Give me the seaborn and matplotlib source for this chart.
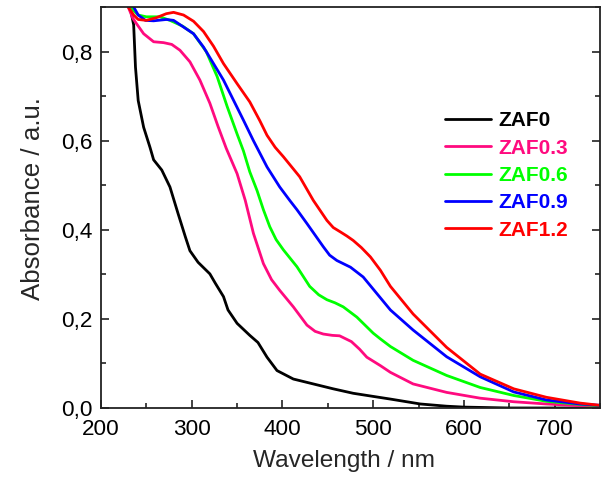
import numpy as np
import pandas as pd
import seaborn as sns
import matplotlib
matplotlib.use("Agg")
import matplotlib.pyplot as plt
from matplotlib.ticker import MultipleLocator, FuncFormatter

# ---- data ----
names = ["ZAF0", "ZAF0.3", "ZAF0.6", "ZAF0.9", "ZAF1.2"]
colors = ["#000000", "#FF0A7F", "#00FF00", "#0000FF", "#FF0000"]

x_zaf0 = [229, 232, 236, 238, 241, 247, 254, 258, 267, 276, 285, 293, 298, 307, 320, 326,
          335, 340, 350, 364, 373, 383, 394, 412, 434, 456, 478, 500, 519, 552, 581, 600,
          650, 700, 750]
y_zaf0 = [0.98, 0.90, 0.86, 0.765, 0.69, 0.63, 0.585, 0.557, 0.534, 0.496, 0.436, 0.384,
          0.353, 0.327, 0.301, 0.280, 0.25, 0.22, 0.19, 0.163, 0.147, 0.114, 0.084, 0.065,
          0.054, 0.043, 0.033, 0.026, 0.020, 0.009, 0.004, 0.002, 0.0, 0.0, 0.0]

x_zaf03 = [227, 230, 235, 239, 247, 258, 269, 278, 287, 298, 309, 320, 329, 338, 350, 359,
           368, 379, 388, 397, 412, 427, 436, 445, 455, 463, 476, 485, 493, 508, 519, 544,
           581, 618, 655, 691, 728, 750]
y_zaf03 = [0.95, 0.90, 0.875, 0.863, 0.84, 0.822, 0.82, 0.816, 0.803, 0.777, 0.736, 0.684,
           0.632, 0.583, 0.526, 0.466, 0.392, 0.324, 0.288, 0.264, 0.227, 0.186, 0.172,
           0.166, 0.163, 0.162, 0.149, 0.132, 0.114, 0.095, 0.08, 0.054, 0.035, 0.022,
           0.014, 0.009, 0.005, 0.004]

x_zaf06 = [229, 232, 241, 250, 265, 276, 290, 302, 316, 328, 339, 350, 357, 364, 372, 379,
           386, 393, 401, 416, 430, 440, 449, 458, 467, 482, 500, 508, 519, 544, 581, 618,
           655, 691, 728, 750]
y_zaf06 = [0.95, 0.90, 0.882, 0.878, 0.878, 0.87, 0.857, 0.84, 0.80, 0.744, 0.677, 0.615,
           0.577, 0.53, 0.488, 0.445, 0.407, 0.378, 0.355, 0.317, 0.273, 0.254, 0.243,
           0.236, 0.227, 0.204, 0.168, 0.155, 0.138, 0.107, 0.073, 0.046, 0.028, 0.015,
           0.008, 0.005]

x_zaf09 = [229, 236, 241, 249, 258, 272, 280, 291, 302, 313, 324, 335, 346, 357, 368, 383,
           397, 408, 416, 427, 445, 452, 460, 468, 475, 489, 504, 519, 544, 581, 618, 655,
           691, 728, 750]
y_zaf09 = [0.95, 0.90, 0.882, 0.87, 0.869, 0.872, 0.87, 0.855, 0.84, 0.81, 0.773, 0.736,
           0.691, 0.646, 0.60, 0.541, 0.496, 0.466, 0.445, 0.414, 0.362, 0.343, 0.331,
           0.323, 0.316, 0.294, 0.257, 0.22, 0.175, 0.115, 0.07, 0.036, 0.018, 0.009, 0.006]

x_zaf12 = [226, 230, 236, 241, 250, 261, 272, 280, 291, 302, 313, 324, 335, 350, 364, 375,
           383, 392, 401, 419, 434, 449, 456, 464, 471, 478, 487, 497, 508, 519, 544, 581,
           618, 655, 691, 728, 750]
y_zaf12 = [0.95, 0.90, 0.882, 0.872, 0.87, 0.876, 0.885, 0.888, 0.882, 0.868, 0.845, 0.812,
           0.773, 0.728, 0.687, 0.645, 0.612, 0.585, 0.564, 0.519, 0.466, 0.421, 0.405,
           0.395, 0.386, 0.376, 0.36, 0.339, 0.309, 0.273, 0.211, 0.136, 0.076, 0.043,
           0.024, 0.011, 0.006]

x_ticks = [200, 300, 400, 500, 600, 700]
y_ticks = [0.0, 0.2, 0.4, 0.6, 0.8]

series = [(names[0], x_zaf0, y_zaf0), (names[1], x_zaf03, y_zaf03),
          (names[2], x_zaf06, y_zaf06), (names[3], x_zaf09, y_zaf09),
          (names[4], x_zaf12, y_zaf12)]
df = pd.concat([pd.DataFrame({"Wavelength": xs, "Absorbance": ys, "Sample": n})
                for n, xs, ys in series], ignore_index=True)

# ---- style ----
sns.set_style("ticks")
plt.rcParams["font.family"] = ["Liberation Sans", "DejaVu Sans"]

fig = plt.figure(figsize=(6.03, 4.83), dpi=100)
ax = fig.add_axes([0.1675, 0.1553, 0.8275, 0.8302])

sns.lineplot(data=df, x="Wavelength", y="Absorbance", hue="Sample",
             hue_order=names, palette=colors, estimator=None, sort=False,
             linewidth=2.0, ax=ax)

ax.set_xlim(200, 750)
ax.set_ylim(0, 0.9)
ax.set_xticks(x_ticks)
ax.set_yticks(y_ticks)
ax.xaxis.set_minor_locator(MultipleLocator(50))
ax.yaxis.set_minor_locator(MultipleLocator(0.1))
ax.yaxis.set_major_formatter(FuncFormatter(lambda v, p: f"{v:.1f}".replace(".", ",")))

ax.tick_params(which="both", direction="in", right=True, top=False, width=1.2,
               labelsize=16.2, colors="#222222", labelcolor="black")
ax.tick_params(which="major", length=6)
ax.tick_params(which="minor", length=3.5)
ax.tick_params(axis="x", which="major", pad=8)
ax.tick_params(axis="y", which="major", pad=6)
for s in ax.spines.values():
    s.set_linewidth(1.3)
    s.set_color("#222222")

ax.set_xlabel("Wavelength / nm", fontsize=17.6, labelpad=7)
ax.set_ylabel("Absorbance / a.u.", fontsize=18.6, labelpad=12)
ax.xaxis.label.set_x(0.486)
ax.yaxis.label.set_y(0.522)

leg = ax.legend(loc="upper left", bbox_to_anchor=(0.69, 0.74), frameon=False,
                prop={"weight": "bold", "size": 15}, handlelength=2.2,
                handletextpad=0.35, labelspacing=0.4, borderpad=0, borderaxespad=0)
for txt, c in zip(leg.get_texts(), colors):
    txt.set_color(c)
for ln in leg.get_lines():
    ln.set_linewidth(2.0)

fig.savefig("out.png", dpi=100)
